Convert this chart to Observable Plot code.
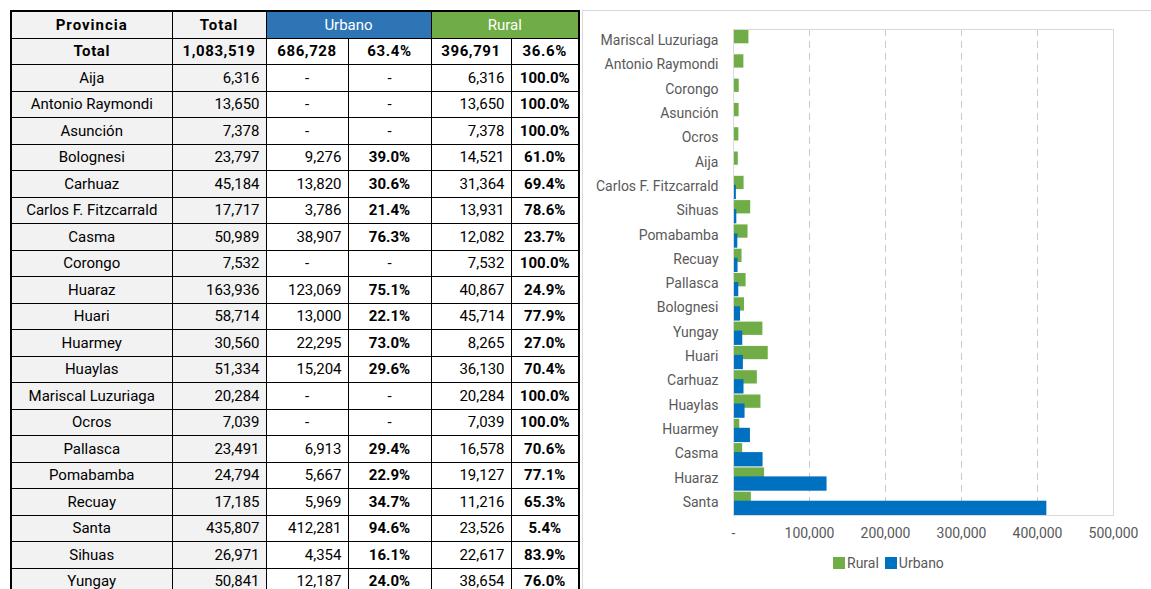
<!DOCTYPE html>
<html>
<head>
<meta charset="utf-8">
<script src="https://cdn.jsdelivr.net/npm/d3@7"></script>
<script src="https://cdn.jsdelivr.net/npm/@observablehq/plot@0.6"></script>
<style>
  body { margin: 0; background: #fff; font-family: Roboto, sans-serif; width: 1151px; height: 589px; overflow: hidden; position: relative; }
  #tbl { position: absolute; left: 10px; top: 10px; border-collapse: collapse; table-layout: fixed; border: 2px solid #000; }
  #tbl td { border: 1px solid #000; padding: 0; font-size: 15px; color: #000; white-space: nowrap; overflow: hidden; }
  #tbl tr { height: 26.5px; }
  #tbl tr.hdr { height: 27px; }
  #tbl td.g { background: #F2F2F2; }
  #tbl td.c { text-align: center; }
  #tbl td.r { text-align: right; padding-right: 6px; }
  #tbl td.b { font-weight: bold; }
  #tbl td.h { font-weight: bold; letter-spacing: 1px; text-align: center; }
  #tbl td.hu { background: #2E75B6; color: #fff; text-align: center; }
  #tbl td.hr { background: #70AD47; color: #fff; text-align: center; }
  #tbl tr.tot td { font-weight: bold; letter-spacing: 0.6px; text-align: center; }
  #box { position: absolute; left: 582px; top: 10px; width: 600px; height: 600px; border: 1px solid #D9D9D9; box-sizing: border-box; }
  #chart { position: absolute; left: 0; top: 0; }
  #legend { position: absolute; left: 250px; top: 535px; }
  .lg-swatch { margin-right: 6px !important; font-size: 14px; color: #595959; font-family: Roboto, sans-serif; }
  .lg-swatch > svg { margin-right: 2px !important; }
</style>
</head>
<body>
<table id="tbl"></table>
<div id="box"><div id="chart"></div><div id="legend"></div></div>
<script>
// ---- Data (table order) ----
const provinces = ["Aija","Antonio Raymondi","Asunción","Bolognesi","Carhuaz","Carlos F. Fitzcarrald","Casma","Corongo","Huaraz","Huari","Huarmey","Huaylas","Mariscal Luzuriaga","Ocros","Pallasca","Pomabamba","Recuay","Santa","Sihuas","Yungay"];
const totals  = [6316,13650,7378,23797,45184,17717,50989,7532,163936,58714,30560,51334,20284,7039,23491,24794,17185,435807,26971,50841];
const urbano  = [0,0,0,9276,13820,3786,38907,0,123069,13000,22295,15204,0,0,6913,5667,5969,412281,4354,12187];
const rural   = [6316,13650,7378,14521,31364,13931,12082,7532,40867,45714,8265,36130,20284,7039,16578,19127,11216,23526,22617,38654];
const grandTotal = 1083519;
const grandUrbano = 686728;
const grandRural = 396791;
// ---- Chart category order (top to bottom) ----
const chartOrder = ["Mariscal Luzuriaga","Antonio Raymondi","Corongo","Asunción","Ocros","Aija","Carlos F. Fitzcarrald","Sihuas","Pomabamba","Recuay","Pallasca","Bolognesi","Yungay","Huari","Carhuaz","Huaylas","Huarmey","Casma","Huaraz","Santa"];
const series = ["Rural","Urbano"];
const xTicks = [0,100000,200000,300000,400000,500000];
const gridTicks = [100000,200000,300000,400000];

const GREEN = "#70AD47", BLUE = "#0070C0";
const fmt = d3.format(",");
const pct = (a, b) => (a / b * 100).toFixed(1) + "%";

// ---- Table ----
const tbl = document.getElementById("tbl");
let html = '<colgroup><col style="width:161px"><col style="width:94px"><col style="width:82px"><col style="width:83px"><col style="width:80px"><col style="width:68px"></colgroup>';
html += '<tr class="hdr"><td class="g h">Provincia</td><td class="g h">Total</td><td class="hu" colspan="2">Urbano</td><td class="hr" colspan="2">Rural</td></tr>';
html += `<tr class="tot"><td class="g">Total</td><td class="g">${fmt(grandTotal)}</td><td>${fmt(grandUrbano)}</td><td>${pct(grandUrbano, grandTotal)}</td><td>${fmt(grandRural)}</td><td>${pct(grandRural, grandTotal)}</td></tr>`;
provinces.forEach((p, i) => {
  const u = urbano[i], r = rural[i], t = totals[i];
  html += `<tr><td class="g c">${p}</td><td class="g r">${fmt(t)}</td>` +
    (u ? `<td class="r">${fmt(u)}</td><td class="c b">${pct(u, t)}</td>` : `<td class="c">-</td><td class="c">-</td>`) +
    `<td class="r">${fmt(r)}</td><td class="c b">${pct(r, t)}</td></tr>`;
});
tbl.innerHTML = html;

// ---- Chart ----
const ruralRows = provinces.map((p, i) => ({prov: p, serie: "Rural", value: rural[i]}));
const urbanoRows = provinces.map((p, i) => ({prov: p, serie: "Urbano", value: urbano[i]})).filter(d => d.value > 0);

const chart = Plot.plot({
  width: 569,
  height: 579,
  marginLeft: 150,
  marginRight: 39,
  marginTop: 18,
  marginBottom: 75,
  style: {fontFamily: "Roboto, sans-serif", fontSize: "14px", color: "#595959", background: "transparent"},
  x: {domain: [0, 500000], axis: null, label: null},
  y: {domain: chartOrder, padding: 0, round: false, axis: null, label: null},
  color: {domain: series, range: [GREEN, BLUE]},
  marks: [
    Plot.gridX(gridTicks, {stroke: "#C8C8C8", strokeOpacity: 1, strokeDasharray: "7,5"}),
    Plot.barX(ruralRows, {x: "value", y: "prov", fill: "serie", insetTop: 1, insetBottom: 10}),
    Plot.barX(urbanoRows, {x: "value", y: "prov", fill: "serie", insetTop: 10, insetBottom: 0}),
    Plot.frame({stroke: "#D9D9D9"}),
    Plot.axisY({tickSize: 0, tickPadding: 15, fontSize: 14, label: null, dy: -1}),
    Plot.axisX(xTicks, {tickSize: 0, tickPadding: 13, fontSize: 14, label: null, tickFormat: d => d === 0 ? "-" : fmt(d)})
  ]
});
document.getElementById("chart").appendChild(chart);

const legend = Plot.legend({
  color: {domain: series, range: [GREEN, BLUE], type: "ordinal"},
  swatchSize: 12,
  className: "lg"
});
document.getElementById("legend").appendChild(legend);
</script>
</body>
</html>
